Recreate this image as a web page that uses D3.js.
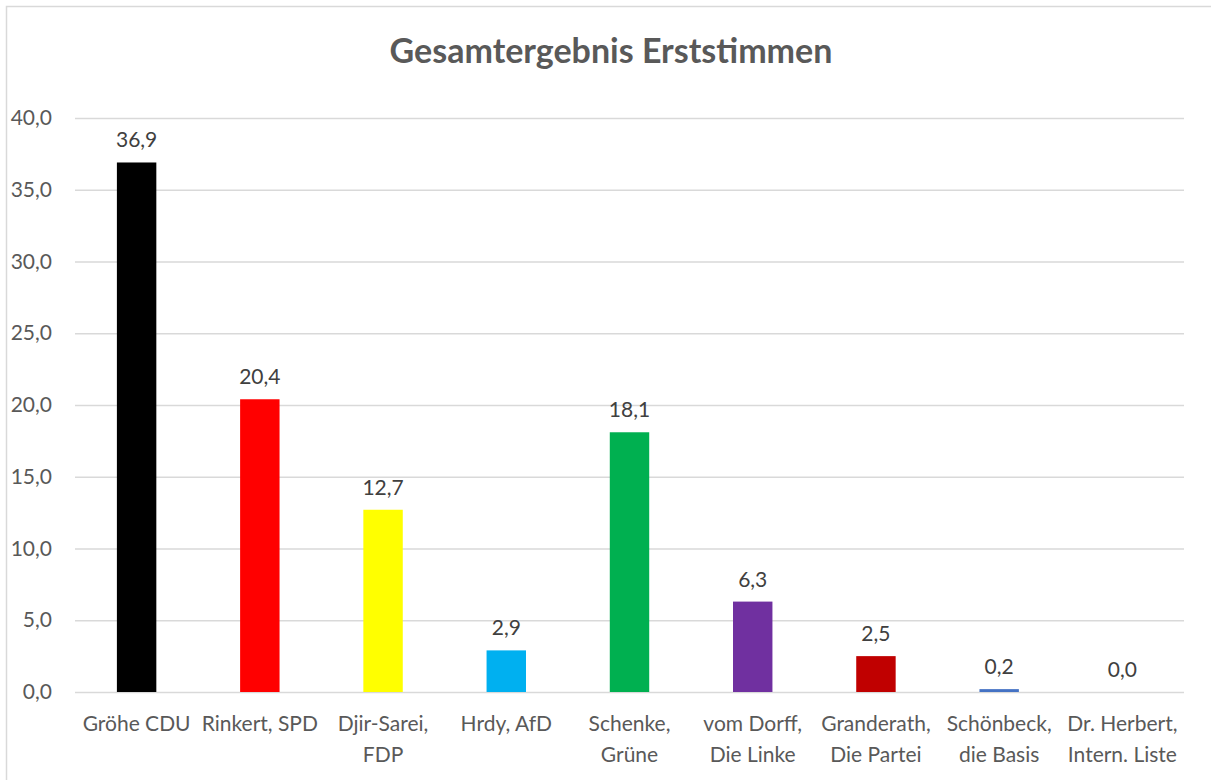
<!DOCTYPE html>
<html><head><meta charset="utf-8">
<script src="https://cdn.jsdelivr.net/npm/d3@7"></script>
<style>body{margin:0;background:#fff}svg{display:block}</style>
</head><body>
<script>
const categories = [["Gröhe CDU"],["Rinkert, SPD"],["Djir-Sarei,","FDP"],["Hrdy, AfD"],["Schenke,","Grüne"],["vom Dorff,","Die Linke"],["Granderath,","Die Partei"],["Schönbeck,","die Basis"],["Dr. Herbert,","Intern. Liste"]];
const values = [36.9, 20.4, 12.7, 2.9, 18.1, 6.3, 2.5, 0.2, 0.0];
const colors = ["#000000","#FF0000","#FFFF00","#00B0F0","#00B050","#7030A0","#C00000","#4472C4","#A5A5A5"];
const yTicks = [0,5,10,15,20,25,30,35,40];
const title = "Gesamtergebnis Erststimmen";

(function(){
const W = 1211, H = 780;
const font = "Lato, 'Open Sans', sans-serif";
const svg = d3.select("body").append("svg").attr("width", W).attr("height", H);
svg.append("rect").attr("x",6.5).attr("y",6.5).attr("width",W).attr("height",H)
  .attr("fill","#fff").attr("stroke","#d9d9d9").attr("stroke-width",1.5);

const mL = 75, mR = 1184, mT = 118, mB = 692;
const x = d3.scaleBand().domain(d3.range(values.length)).range([mL,mR]).paddingInner(0.68).paddingOuter(0.34);
const y = d3.scaleLinear().domain([0,40]).range([mB, mT]);
const fmt = v => d3.format(".1f")(v).replace(".", ",");

svg.append("text").attr("x", 611).attr("y", 63).attr("text-anchor","middle")
  .attr("font-family",font).attr("font-weight","bold").attr("font-size",34).attr("fill","#595959").text(title);

const yAxis = d3.axisLeft(y).tickValues(yTicks).tickSize(-(mR-mL)).tickFormat(fmt).tickPadding(23);
const ga = svg.append("g").attr("transform",`translate(${mL},0)`).call(yAxis);
ga.select(".domain").remove();
ga.selectAll(".tick line").attr("stroke","#d9d9d9").attr("stroke-width",1.5);
ga.selectAll(".tick text").attr("font-family",font).attr("font-size",21).attr("fill","#595959");

svg.selectAll("rect.bar").data(values).join("rect").attr("class","bar")
  .attr("x",(d,i)=>x(i)).attr("width",x.bandwidth())
  .attr("y",d=>y(d)).attr("height",d=>y(0)-y(d))
  .attr("fill",(d,i)=>colors[i]);

svg.selectAll("text.val").data(values).join("text").attr("class","val")
  .attr("x",(d,i)=>x(i)+x.bandwidth()/2).attr("y",d=>y(d)-15)
  .attr("text-anchor","middle").attr("font-family",font).attr("font-size",21).attr("fill","#404040")
  .text(fmt);

const cl = svg.selectAll("text.cat").data(categories).join("text").attr("class","cat")
  .attr("text-anchor","middle").attr("font-family",font).attr("font-size",21).attr("fill","#595959");
cl.each(function(lines,i){
  d3.select(this).selectAll("tspan").data(lines).join("tspan")
    .attr("x", x(i)+x.bandwidth()/2).attr("y",(l,j)=>731+j*31).text(l=>l);
});
})();
</script>
</body></html>
